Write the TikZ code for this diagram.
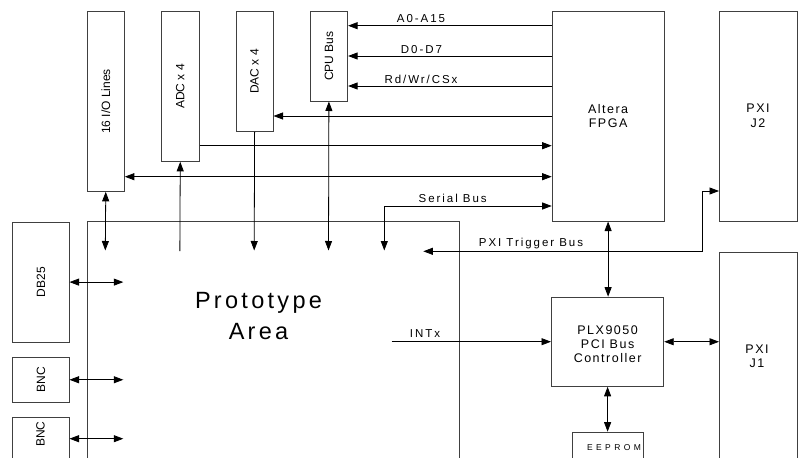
\documentclass[tikz,border=0pt]{standalone}
\usepackage{fontspec}
\setmainfont{Liberation Sans}
\newfontfamily\boxfont[LetterSpace=12]{Liberation Sans}
\newfontfamily\labfont[LetterSpace=17]{Liberation Sans}
\newfontfamily\protofont[LetterSpace=14]{Liberation Sans}
\newfontfamily\eepfont[LetterSpace=40]{Liberation Sans}
\usetikzlibrary{arrows.meta}
\begin{document}
\begin{tikzpicture}[x=1pt,y=-1pt,
  box/.style={draw=black!75, line width=0.8pt, inner sep=0pt, anchor=north west},
  rot/.style={rotate=90, font=\fontsize{12}{14}\selectfont, inner sep=0pt},
  boxtxt/.style={font=\boxfont\fontsize{12.5}{14.3}\selectfont, align=center, inner sep=0pt},
  lab/.style={font=\labfont\fontsize{11.5}{13}\selectfont, anchor=base, inner sep=0pt},
  conn/.style={line width=0.8pt, black},
  tip/.tip={Triangle[length=9.5pt,width=7pt]},
  arr/.style={conn, -tip},
  darr/.style={conn, tip-tip},
]
\useasboundingbox (0,0) rectangle (799,457);
\begin{scope}
\clip (0,0) rectangle (799,457);
% top boxes
\node[box, minimum width=37.3pt, minimum height=180pt, label={[rot]center:16 I/O Lines}] (io) at (86.7,11) {};
\node[box, minimum width=37.7pt, minimum height=150pt, label={[rot]center:ADC x 4}] (adc) at (161,11) {};
\node[box, minimum width=37pt, minimum height=120pt, label={[rot]center:DAC x 4}] (dac) at (235.7,11) {};
\node[box, minimum width=37.6pt, minimum height=89.7pt, label={[rot]center:CPU Bus}] (cpu) at (309.7,11) {};
\node[box, minimum width=112pt, minimum height=209.7pt] (fpga) at (551.7,11) {};
\node[boxtxt] (fpgatxt) at (fpga.center) {Altera\\FPGA};
\node[box, minimum width=77.5pt, minimum height=209.7pt] (j2) at (719,11) {};
\node[boxtxt] (j2txt) at (758,115.85) {PXI\\J2};
% lower boxes
\node[box, minimum width=372.3pt, minimum height=260pt] (proto) at (86.7,221) {};
\node[font=\protofont\fontsize{23.5}{31}\selectfont, align=center, inner sep=0pt] (prototxt) at (258.5,316) {Prototype\\Area};
\node[box, minimum width=56.4pt, minimum height=120pt, label={[rot]center:DB25}] (db25) at (12.3,221.7) {};
\node[box, minimum width=56.4pt, minimum height=45.3pt, label={[rot]center:BNC}] (bnc1) at (12.3,356.7) {};
\node[box, minimum width=56.4pt, minimum height=60pt] (bnc2) at (12.3,416.7) {};
\node[rot] (bnc2txt) at (40.5,434) {BNC};
\node[box, minimum width=112.4pt, minimum height=89.3pt] (plx) at (551,296.7) {};
\node[boxtxt] (plxtxt) at ([yshift=-2.4pt]plx.center) {PLX9050\\PCI Bus\\Controller};
\node[box, minimum width=71pt, minimum height=40pt] (eep) at (571.7,431.7) {};
\node[font=\eepfont\fontsize{8.5}{10}\selectfont, inner sep=0pt] (eeptxt) at (614,448) {EEPROM};
\node[box, minimum width=77.5pt, minimum height=220pt] (j1) at (719,251.7) {};
\node[boxtxt] (j1txt) at (757,356) {PXI\\J1};
% free ends
\coordinate (ioP) at (105.3,250.5);
\coordinate (adcP) at (179.85,251);
\coordinate (dacP) at (254.2,250.5);
\coordinate (cpuP) at (328.5,250.5);
\coordinate (serP) at (384.3,250.5);
\coordinate (trigP) at (423.3,251.3);
\coordinate (trigK) at (702.3,251.3);
\coordinate (intP) at (391.7,341.7);
\coordinate (dbP) at (123.3,281.7);
\coordinate (bncP) at (123.3,438.7);
% bus arrows from FPGA
\draw[arr] (fpga.west |- 0,25.7) -- (cpu.east |- 0,25.7);
\draw[arr] (fpga.west |- 0,56) -- (cpu.east |- 0,56);
\draw[arr] (fpga.west |- 0,86) -- (cpu.east |- 0,86);
\draw[arr] (fpga.west |- 0,116) -- (dac.east |- 0,116);
\draw[arr] (adc.east |- 0,145.7) -- (fpga.west |- 0,145.7);
\draw[darr] (io.east |- 0,176.7) -- (fpga.west |- 0,176.7);
\draw[darr] (serP) |- (fpga.west |- 0,206);
\node[lab] (la) at (421,23) {A0-A15};
\node[lab] (ld) at (421.5,53.3) {D0-D7};
\node[lab] (lr) at (421,83.3) {Rd/Wr/CSx};
\node[lab] (ls) at (452.7,202.7) {Serial Bus};
% verticals into prototype area
\draw[darr] (io.south) -- (ioP);
\draw[arr] (adcP) -- (adc.south);
\draw[arr] (dac.south) -- (dacP);
\draw[darr] (cpu.south) -- (cpuP);
% trigger bus
\draw[darr] (trigP) -- (trigK) |- (j2.west |- 0,191);
\node[lab] (lt) at (531,246) {PXI Trigger Bus};
% PLX connections
\draw[darr] (fpga.south) -- (fpga.south |- plx.north);
\draw[darr] (plx.south) -- (plx.south |- eep.north);
\draw[darr] (plx.east) -- (plx.east -| j1.west);
\draw[arr] (intP) -- (intP -| plx.west);
\node[lab] (li) at (425,337.3) {INTx};
% connectors at left
\draw[darr] (db25.east) -- (db25.east -| dbP);
\draw[darr] (bnc1.east) -- (bnc1.east -| dbP);
\draw[darr] (bnc2.east |- bncP) -- (bncP);
\end{scope}
\end{tikzpicture}
\end{document}
